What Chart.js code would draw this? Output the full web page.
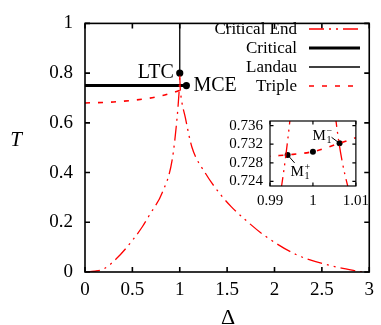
<!DOCTYPE html>
<html>
<head>
<meta charset="utf-8">
<script src="https://cdn.jsdelivr.net/npm/chart.js@4.4.1/dist/chart.umd.min.js"></script>
<style>
  html, body { margin: 0; padding: 0; background: #fff; }
  #wrap { position: relative; width: 381px; height: 325px; }
  #main { position: absolute; left: 0; top: 0; }
  #inset { position: absolute; left: 215px; top: 105px; }
</style>
</head>
<body>
<div id="wrap">
  <canvas id="main" width="381" height="325"></canvas>
  <canvas id="inset" width="160" height="110"></canvas>
</div>
<script>
// --- datos (Δ, T) ---
const ceLeftD  = [0, 0.1, 0.2, 0.33, 0.5, 0.607, 0.68, 0.816, 0.92, 0.972, 0.9927, 0.9946, 1.0];
const ceLeftT  = [0, 0.003, 0.013, 0.053, 0.127, 0.183, 0.229, 0.32, 0.451, 0.621, 0.723, 0.7368, 0.79];
const ceRightD = [1.0, 1.0054, 1.0081, 1.059, 1.128, 1.268, 1.44, 1.545, 1.677, 1.89, 2.24, 2.59, 2.9, 2.93];
const ceRightT = [0.79, 0.7368, 0.723, 0.621, 0.503, 0.399, 0.307, 0.262, 0.215, 0.148, 0.068, 0.026, 0.002, 0];
const tripleD  = [0, 0.3, 0.64, 0.82, 0.9, 0.95, 0.99, 0.9941, 1.0, 1.0062, 1.01];
const tripleT  = [0.680, 0.684, 0.697, 0.710, 0.7185, 0.724, 0.7294, 0.7297, 0.7304, 0.7322, 0.7334];
const critD    = [0, 1.07];
const critT    = [0.75, 0.75];
const landauD  = [1, 1];
const landauT  = [0.8, 1];

const pointNames = ['LTC', 'MCE'];
const pointD     = [1.0, 1.07];
const pointT     = [0.8, 0.75];

const insetSigns = ['+', '', '\u2212'];
const insetD     = [0.9941, 1.0, 1.0062];
const insetT     = [0.7297, 0.7304, 0.7322];

const xTicks      = [0, 0.5, 1, 1.5, 2, 2.5, 3];
const yTicks      = [0, 0.2, 0.4, 0.6, 0.8, 1];
const insetXTicks = [0.99, 1, 1.01];
const insetYTicks = [0.724, 0.728, 0.732, 0.736];

const RED = '#ff0000';
const SERIF = "'Liberation Serif', 'Times New Roman', serif";
const DASH_CE = [15, 5, 2, 5, 2, 5];
const DASH_TR = [5, 8];

const pts = (xs, ys) => xs.map((x, i) => ({ x, y: ys[i] }));
const fmt = v => String(Math.round(v * 1000) / 1000);
const setTicks = arr => s => { s.ticks = arr.map(v => ({ value: v })); };

/** Marco con ticks hacia dentro (estilo gnuplot) */
const frameTicks = {
    id: 'frameTicks',
    afterDatasetsDraw(chart, args, o) {
        const { ctx, chartArea: a, scales: { x, y } } = chart;
        ctx.save();
        ctx.strokeStyle = '#000'; ctx.lineWidth = o.width; ctx.setLineDash([]);
        ctx.beginPath();
        x.ticks.forEach(t => {
            const px = x.getPixelForValue(t.value);
            ctx.moveTo(px, a.bottom); ctx.lineTo(px, a.bottom - o.len);
            ctx.moveTo(px, a.top); ctx.lineTo(px, a.top + o.len);
        });
        y.ticks.forEach(t => {
            const py = y.getPixelForValue(t.value);
            ctx.moveTo(a.left, py); ctx.lineTo(a.left + o.len, py);
            ctx.moveTo(a.right, py); ctx.lineTo(a.right - o.len, py);
        });
        ctx.stroke();
        ctx.strokeRect(a.left, a.top, a.right - a.left, a.bottom - a.top);
        ctx.restore();
    }
};

/** Leyenda: texto a la derecha alineado y muestra de línea */
const gnuLegend = {
    id: 'gnuLegend',
    afterDraw(chart, args, o) {
        const ctx = chart.ctx;
        ctx.save();
        ctx.font = o.font; ctx.textAlign = 'right'; ctx.textBaseline = 'middle';
        chart.data.datasets.filter(d => d.inLegend).forEach((d, i) => {
            const y = o.top + i * o.rowH;
            ctx.fillStyle = '#000';
            ctx.fillText(d.label, o.textRight, y + 1);
            ctx.strokeStyle = d.borderColor; ctx.lineWidth = d.borderWidth;
            ctx.setLineDash(d.borderDash || []);
            ctx.beginPath(); ctx.moveTo(o.sampleLeft, y); ctx.lineTo(o.sampleLeft + o.sampleW, y); ctx.stroke();
        });
        ctx.restore();
    }
};

/** Títulos de ejes sin rotar */
const axisTitles = {
    id: 'axisTitles',
    afterDraw(chart, args, o) {
        const { ctx, chartArea: a } = chart;
        ctx.save();
        ctx.fillStyle = '#000'; ctx.textAlign = 'center'; ctx.textBaseline = 'middle';
        ctx.font = 'italic 21px ' + SERIF;
        ctx.fillText(o.y, 16, (a.top + a.bottom) / 2 - 7);
        ctx.font = '22px ' + SERIF;
        ctx.fillText(o.x, (a.left + a.right) / 2 + 1, a.bottom + 46);
        ctx.restore();
    }
};

/** Etiquetas LTC / MCE junto a sus puntos */
const pointLabels = {
    id: 'pointLabels',
    afterDraw(chart, args, o) {
        const { ctx, scales: { x, y } } = chart;
        ctx.save();
        ctx.fillStyle = '#000'; ctx.font = '20px ' + SERIF; ctx.textBaseline = 'middle';
        pointNames.forEach((name, i) => {
            const off = o.offsets[i];
            ctx.textAlign = off.align;
            ctx.fillText(name, x.getPixelForValue(pointD[i]) + off.dx, y.getPixelForValue(pointT[i]) + off.dy);
        });
        ctx.restore();
    }
};

const lineDs = (label, xs, ys, extra) => Object.assign({
    label, data: pts(xs, ys), showLine: true, pointRadius: 0, pointHoverRadius: 0,
    fill: false, borderColor: RED, borderWidth: 1.3
}, extra);

new Chart(document.getElementById('main'), {
    type: 'scatter',
    data: {
        datasets: [
            lineDs('Critical End', ceLeftD, ceLeftT, { borderDash: DASH_CE, cubicInterpolationMode: 'monotone', inLegend: true }),
            lineDs('Critical End', ceRightD, ceRightT, { borderDash: DASH_CE, cubicInterpolationMode: 'monotone' }),
            lineDs('Critical', critD, critT, { borderColor: '#000', borderWidth: 3, inLegend: true }),
            lineDs('Landau', landauD, landauT, { borderColor: '#000', borderWidth: 1.3, inLegend: true }),
            lineDs('Triple', tripleD, tripleT, { borderDash: DASH_TR, borderWidth: 1.6, cubicInterpolationMode: 'monotone', inLegend: true }),
            { label: 'puntos', data: pts(pointD, pointT), showLine: false, pointRadius: 3.6, pointHoverRadius: 3.6,
              backgroundColor: '#000', borderWidth: 0 }
        ]
    },
    options: {
        responsive: false, animation: false, events: [], devicePixelRatio: 1,
        layout: { padding: { left: 0, right: 9, top: 17, bottom: 0 } },
        scales: {
            x: {
                type: 'linear', min: 0, max: 3,
                afterBuildTicks: setTicks(xTicks),
                afterFit: s => { s.height = 53; },
                grid: { display: false, drawTicks: false }, border: { display: false },
                ticks: { color: '#000', font: { family: SERIF, size: 19 }, padding: 7, callback: fmt, maxRotation: 0 }
            },
            y: {
                type: 'linear', min: 0, max: 1,
                afterBuildTicks: setTicks(yTicks),
                afterFit: s => { s.width = 85; },
                grid: { display: false, drawTicks: false }, border: { display: false },
                ticks: { color: '#000', font: { family: SERIF, size: 19 }, padding: 12, callback: fmt }
            }
        },
        plugins: {
            legend: { display: false }, tooltip: { enabled: false },
            frameTicks: { width: 1.6, len: 5 },
            gnuLegend: { font: '17px ' + SERIF, top: 29, rowH: 19, textRight: 297, sampleLeft: 309, sampleW: 51 },
            axisTitles: { x: 'Δ', y: 'T' },
            pointLabels: { offsets: [{ dx: -6, dy: 0, align: 'right' }, { dx: 7, dy: 0, align: 'left' }] }
        }
    },
    plugins: [frameTicks, gnuLegend, axisTitles, pointLabels]
});

/** Etiquetas M1± del recuadro con subíndice y superíndice apilados */
const insetLabels = {
    id: 'insetLabels',
    afterDraw(chart, args, o) {
        const { ctx, scales: { x, y } } = chart;
        ctx.save();
        ctx.fillStyle = '#000'; ctx.strokeStyle = '#000'; ctx.lineWidth = 1;
        ctx.textAlign = 'left'; ctx.textBaseline = 'alphabetic';
        insetSigns.forEach((sign, i) => {
            if (!sign) return;
            const px = x.getPixelForValue(insetD[i]), py = y.getPixelForValue(insetT[i]);
            const off = o.offsets[i];
            ctx.beginPath(); ctx.moveTo(px, py); ctx.lineTo(px + off.lx, py + off.ly); ctx.stroke();
            ctx.font = '15px ' + SERIF;
            const mx = px + off.dx, my = py + off.dy;
            ctx.fillText('M', mx, my);
            const w = ctx.measureText('M').width;
            ctx.font = '10px ' + SERIF;
            ctx.fillText('1', mx + w + 0.5, my + 3);
            ctx.fillText(sign, mx + w + 0.5, my - 6);
        });
        ctx.restore();
    }
};

new Chart(document.getElementById('inset'), {
    type: 'scatter',
    data: {
        datasets: [
            lineDs('Critical End', ceLeftD, ceLeftT, { borderDash: DASH_CE, cubicInterpolationMode: 'monotone' }),
            lineDs('Critical End', ceRightD, ceRightT, { borderDash: DASH_CE, cubicInterpolationMode: 'monotone' }),
            lineDs('Triple', tripleD, tripleT, { borderDash: DASH_TR, borderWidth: 1.6, cubicInterpolationMode: 'monotone' }),
            { label: 'M', data: pts(insetD, insetT), showLine: false, pointRadius: 3, pointHoverRadius: 3,
              backgroundColor: '#000', borderWidth: 0 }
        ]
    },
    options: {
        responsive: false, animation: false, events: [], devicePixelRatio: 1,
        layout: { padding: { left: 0, right: 18, top: 10, bottom: 0 } },
        scales: {
            x: {
                type: 'linear', min: 0.99, max: 1.01,
                afterBuildTicks: setTicks(insetXTicks),
                afterFit: s => { s.height = 29; },
                grid: { display: false, drawTicks: false }, border: { display: false },
                ticks: { color: '#000', font: { family: SERIF, size: 15 }, padding: 6, callback: fmt, maxRotation: 0 }
            },
            y: {
                type: 'linear', min: 0.723, max: 0.737,
                afterBuildTicks: setTicks(insetYTicks),
                afterFit: s => { s.width = 55; },
                grid: { display: false, drawTicks: false }, border: { display: false },
                ticks: { color: '#000', font: { family: SERIF, size: 15 }, padding: 7, callback: fmt }
            }
        },
        plugins: {
            legend: { display: false }, tooltip: { enabled: false },
            frameTicks: { width: 1.2, len: 3.5 },
            insetLabels: { offsets: [{ dx: 3, dy: 21.5, lx: 7, ly: 8 }, null, { dx: -27, dy: -3.5, lx: -8, ly: -6 }] }
        }
    },
    plugins: [frameTicks, insetLabels]
});
</script>
</body>
</html>
